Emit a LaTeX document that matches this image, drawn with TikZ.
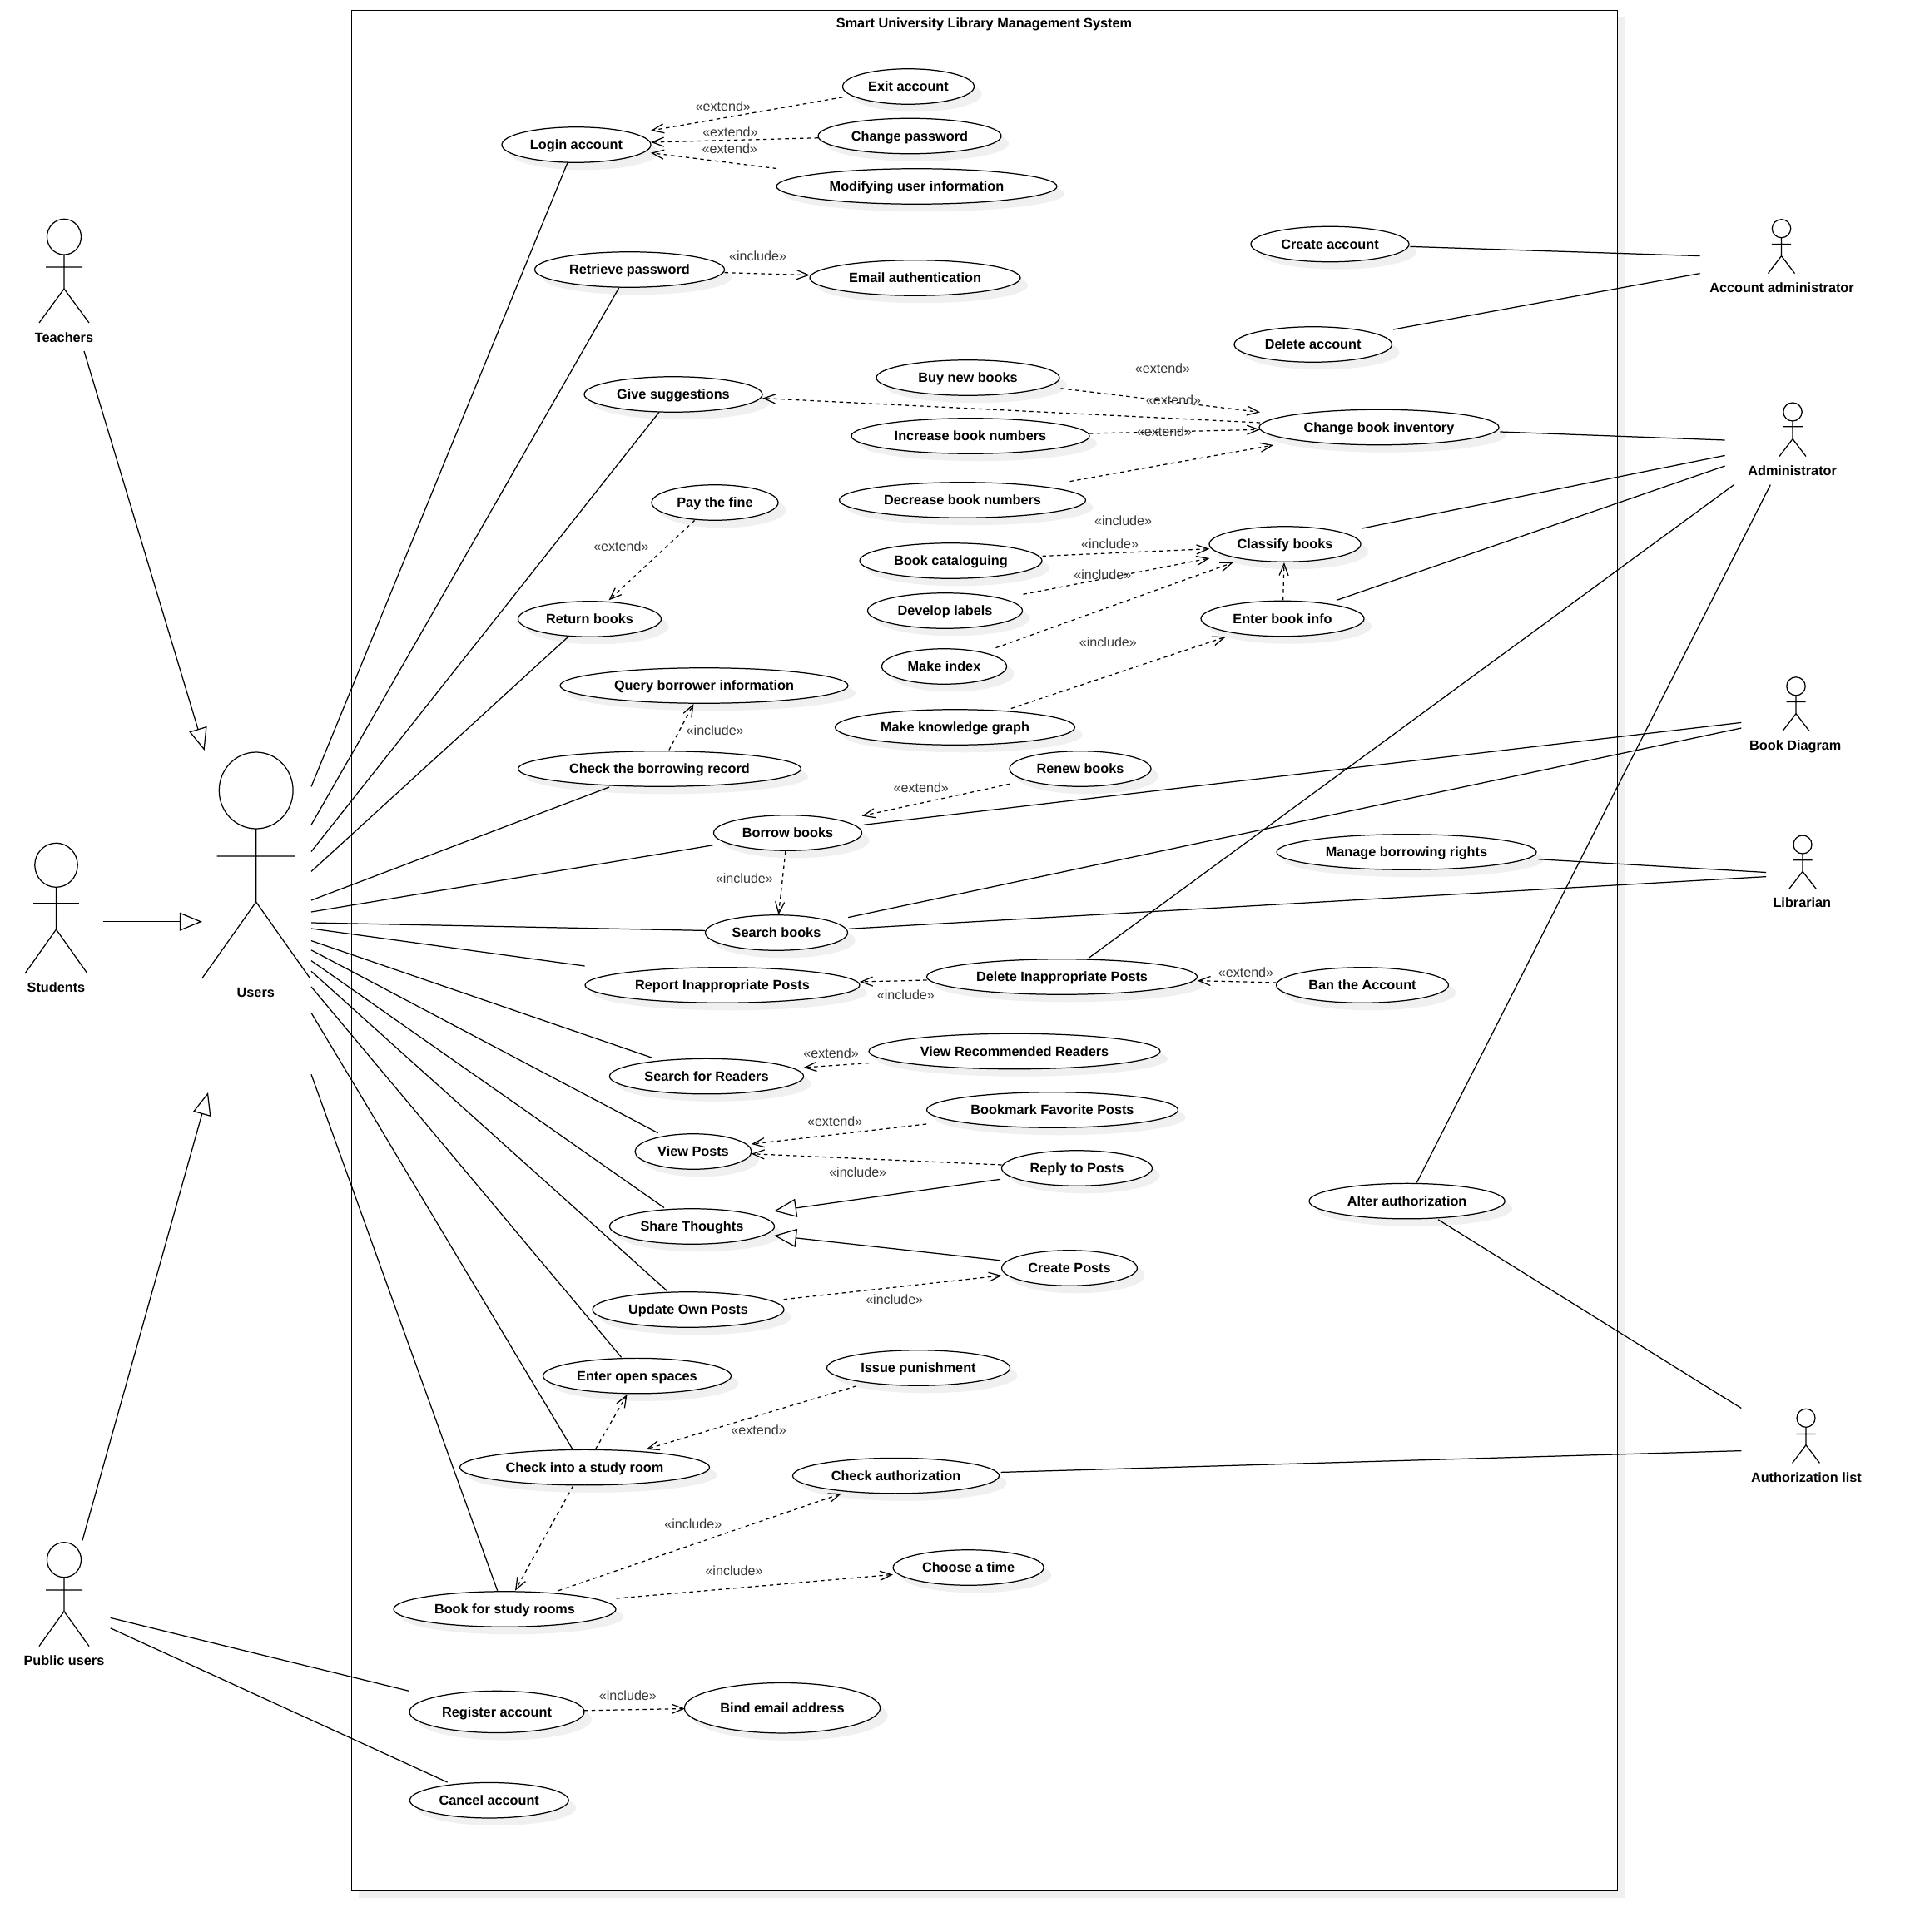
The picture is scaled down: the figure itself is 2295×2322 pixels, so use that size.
\documentclass[tikz,border=0pt]{standalone}
\usepackage{fontspec}
\setmainfont{Liberation Sans}
\usetikzlibrary{arrows.meta,shapes.geometric,shadows}
\definecolor{shgray}{HTML}{F0F0F0}
\definecolor{lbgray}{HTML}{383838}
\tikzset{
  lnk/.style={line width=0.62pt,black},
  assoc/.style={lnk},
  dep/.style={lnk,dash pattern=on 2.2pt off 2.2pt,-{Straight Barb[length=7pt,width=5.5pt]}},
  gen/.style={lnk,-{Triangle[open,fill=white,length=13.5pt,width=11pt]}},
  ucbox/.style={shape=ellipse,draw=black,fill=white,line width=0.62pt,inner sep=0pt,
    font=\fontsize{8.13}{9.6}\selectfont\bfseries,text height=5.8pt,text depth=0pt,
    drop shadow={shadow xshift=4.5pt,shadow yshift=-4.5pt,fill=shgray,opacity=1}},
  actorlabel/.style={inner sep=0pt,font=\fontsize{8.13}{9.6}\selectfont\bfseries,text height=5.8pt,text depth=0pt},
  steretype/.style={inner sep=0pt,text=lbgray,font=\fontsize{8.05}{9.6}\selectfont,text height=5.8pt,text depth=0pt},
}
\newcommand\uc[6][21.25]{\node[ucbox,minimum width=#5pt,minimum height=#1pt] (#2) at (#3,#4) {#6};}
\newcommand\stick[9]{\draw[lnk] (#1,#2) ellipse [x radius=#3,y radius=#4]
  (#1,#2+#4) -- (#1,#7) (#1-#6,#5) -- (#1+#6,#5) (#1-#8,#9) -- (#1,#7) -- (#1+#8,#9);}
\newcommand\lbl[4]{\node[steretype] (#1) at (#2,#3) {#4};}
\newcommand\lk[5]{\draw[#1] ([shift={(#3)}]#2.center) -- ([shift={(#5)}]#4.center);}
\begin{document}
\begin{tikzpicture}[x=0.5pt,y=-0.5pt]
\useasboundingbox (0,0) rectangle (2295,2322);
\fill[white] (0,0) rectangle (2295,2322);
% system frame
\node[draw=black,fill=white,line width=0.62pt,inner sep=0pt,minimum width=760.4pt,minimum height=1130.1pt,
  drop shadow={shadow xshift=4.5pt,shadow yshift=-4.5pt,fill=shgray,opacity=1}] (frame) at (1182.85,1142.3) {};
\node[actorlabel] (title) at (1182.5,27.5) {Smart University Library Management System};
% use cases
\uc{exit}{1091.5}{104}{79}{Exit account}
\uc{chpw}{1093}{163.5}{110}{Change password}
\uc{modify}{1101.5}{224}{168.5}{Modifying user information}
\uc{login}{692.5}{174}{89.5}{Login account}
\uc{retr}{756.5}{324}{114}{Retrieve password}
\uc{email}{1099.5}{334}{126.5}{Email authentication}
\uc{give}{809}{474}{107}{Give suggestions}
\uc{payfine}{859}{604}{76}{Pay the fine}
\uc{ret}{708.5}{744}{86}{Return books}
\uc{buy}{1163}{454}{110}{Buy new books}
\uc{incr}{1166}{524}{143}{Increase book numbers}
\uc{decr}{1156.5}{601}{148}{Decrease book numbers}
\uc{cat}{1142.5}{674}{109.5}{Book cataloguing}
\uc{lab}{1135.5}{734}{93}{Develop labels}
\uc{idx}{1134.5}{801}{75}{Make index}
\uc{create}{1598}{293.5}{95}{Create account}
\uc{del}{1577.7}{414}{94.7}{Delete account}
\uc{inv}{1657}{513.5}{144}{Change book inventory}
\uc{classify}{1544}{654}{91}{Classify books}
\uc{info}{1541}{743.5}{98}{Enter book info}
\uc{query}{846}{824}{173}{Query borrower information}
\uc{kg}{1147.5}{874}{144}{Make knowledge graph}
\uc{rec}{792.5}{924}{170}{Check the borrowing record}
\uc{renew}{1298}{924}{85}{Renew books}
\uc{borrow}{946.5}{1001}{89}{Borrow books}
\uc{search}{933}{1121}{85.5}{Search books}
\uc{manage}{1690}{1024}{156}{Manage borrowing rights}
\uc{report}{868}{1184}{165}{Report Inappropriate Posts}
\uc{delpost}{1276}{1174}{162.5}{Delete Inappropriate Posts}
\uc{ban}{1637}{1184}{103.4}{Ban the Account}
\uc{sreaders}{849}{1293.6}{116.6}{Search for Readers}
\uc{viewrec}{1219}{1263.5}{175}{View Recommended Readers}
\uc{view}{833}{1384}{70}{View Posts}
\uc{bookmark}{1264.5}{1334}{151}{Bookmark Favorite Posts}
\uc{reply}{1294}{1404}{90.5}{Reply to Posts}
\uc{share}{831.5}{1474}{99}{Share Thoughts}
\uc{alter}{1690.6}{1443.6}{117.6}{Alter authorization}
\uc{cposts}{1285}{1524}{81.4}{Create Posts}
\uc{update}{827}{1574}{115}{Update Own Posts}
\uc{open}{765.5}{1653.6}{113}{Enter open spaces}
\uc{issue}{1103.5}{1644}{110}{Issue punishment}
\uc{checkin}{702.5}{1763.6}{150}{Check into a study room}
\uc{auth}{1076.5}{1773.6}{124}{Check authorization}
\uc{choose}{1163.6}{1884}{90.5}{Choose a time}
\uc{bookroom}{606.5}{1934}{133.5}{Book for study rooms}
\uc[25.1]{register}{597}{2057.4}{105}{Register account}
\uc[30.2]{bind}{940}{2052.7}{117.6}{Bind email address}
\uc{cancel}{587.8}{2163.7}{95.4}{Cancel account}
% actors
\stick{77}{284.7}{20.5}{21.4}{321}{22}{347}{30}{388}
\node[actorlabel] (teachers) at (77,405.6) {Teachers};
\stick{307.7}{950}{44.4}{46}{1029}{47}{1084}{65}{1176}
\node[actorlabel] (users) at (307.3,1193) {Users};
\stick{67.5}{1039.8}{25.7}{26.5}{1085.7}{27.3}{1117}{37.5}{1170}
\node[actorlabel] (students) at (67.5,1187) {Students};
\stick{77}{1874.7}{20.5}{21}{1911}{22}{1936.6}{30}{1978.5}
\node[actorlabel] (public) at (77,1995.5) {Public users};
\stick{2140.5}{274.7}{11.2}{11}{293.4}{11.7}{307.6}{16}{328.6}
\node[actorlabel] (accadm) at (2141,345.4) {Account administrator};
\stick{2154}{495}{11.2}{11}{512.8}{12}{527.6}{16}{548.5}
\node[actorlabel] (admin) at (2153.6,565.3) {Administrator};
\stick{2158}{824.8}{11.2}{11}{843.4}{11.5}{857.7}{16}{878.6}
\node[actorlabel] (bookd) at (2157.3,895.4) {Book Diagram};
\stick{2166}{1015}{11}{11}{1033.7}{11.5}{1047.4}{16.3}{1068.4}
\node[actorlabel] (librarian) at (2165.3,1085) {Librarian};
\stick{2170}{1704.3}{11}{11}{1723.4}{11.5}{1736.7}{16.4}{1758.4}
\node[actorlabel] (authlist) at (2170.4,1775.4) {Authorization list};
% generalisations
\lk{gen}{teachers}{24,16.4}{users}{-61.6,-291}
\lk{gen}{students}{56.5,-79.3}{users}{-64.5,-85.3}
\lk{gen}{public}{22,-144.1}{users}{-57.3,120}
\lk{gen}{reply}{-92,13.3}{share}{98.5,-18.4}
\lk{gen}{cposts}{-83,-9.2}{share}{98.5,11}
% users associations
\lk{assoc}{users}{66.7,-247.6}{login}{-10.5,21.4}
\lk{assoc}{users}{66.7,-201.7}{retr}{-12.8,22}
\lk{assoc}{users}{66.7,-169.5}{give}{-17,21.4}
\lk{assoc}{users}{66.7,-145.6}{ret}{-26.5,22}
\lk{assoc}{users}{66.7,-111}{rec}{-60.5,22}
\lk{assoc}{users}{66.7,-97}{borrow}{-89.9,14.8}
\lk{assoc}{users}{66.7,-84}{search}{-86,-2.6}
\lk{assoc}{users}{66.7,-77}{report}{-165.4,-23}
\lk{assoc}{users}{66.7,-62.4}{sreaders}{-65,-22.2}
\lk{assoc}{users}{66.7,-51.2}{view}{-42.4,-22.3}
\lk{assoc}{users}{66.7,-38.4}{share}{-33.5,-22.5}
\lk{assoc}{users}{66.7,-25.7}{update}{-25.4,-22.5}
\lk{assoc}{users}{66.7,-7}{open}{-18.9,-22.3}
\lk{assoc}{users}{66.7,24.3}{checkin}{-14.5,-21.8}
\lk{assoc}{users}{66.7,98.3}{bookroom}{-8.8,-22.3}
\lk{assoc}{public}{55.7,-51.1}{register}{-105.6,-25.1}
\lk{assoc}{public}{55.7,-38.7}{cancel}{-50.2,-21.7}
% right-hand associations
\lk{assoc}{create}{96.3,2.9}{accadm}{-98.4,-37.8}
\lk{assoc}{del}{96.3,-18}{accadm}{-98.4,-16.8}
\lk{assoc}{inv}{145.4,5.5}{admin}{-81,-36.3}
\lk{assoc}{classify}{92.6,-19}{admin}{-81,-17.9}
\lk{assoc}{info}{65,-22.1}{admin}{-81,-5.3}
\lk{assoc}{delpost}{32,-22.5}{admin}{-70.1,17.3}
\lk{assoc}{alter}{11.7,-22.2}{admin}{-26.3,17.3}
\lk{assoc}{borrow}{91.3,-9.7}{bookd}{-65,-27}
\lk{assoc}{search}{86.2,-18.4}{bookd}{-65,-20.4}
\lk{assoc}{search}{86.9,-4.7}{librarian}{-43.1,-31.4}
\lk{assoc}{manage}{158.4,8.7}{librarian}{-43.1,-36.5}
\lk{assoc}{auth}{126,-4.2}{authlist}{-78.1,-31.8}
\lk{assoc}{alter}{37.4,22.2}{authlist}{-78.1,-82.9}
% dependencies
\lk{dep}{exit}{-79,12.8}{login}{89.5,-17}
\lk{dep}{chpw}{-110,2.3}{login}{89.5,-3}
\lk{dep}{modify}{-168.5,-21.5}{login}{89.5,9.7}
\lk{dep}{retr}{114,3.6}{email}{-126.5,-3.4}
\lk{dep}{payfine}{-24.4,21.5}{ret}{23,-22.6}
\lk{dep}{buy}{111.5,12.8}{inv}{-143,-18.1}
\lk{dep}{inv}{-143,-5.5}{give}{107,4.6}
\lk{dep}{incr}{143,-3}{inv}{-143,2.8}
\lk{dep}{decr}{129,-22.4}{inv}{-127,21.5}
\lk{dep}{cat}{110,-5.6}{classify}{-90.7,5.7}
\lk{dep}{lab}{94,-19.7}{classify}{-90.7,17}
\lk{dep}{idx}{62,-22.4}{classify}{-62.2,22}
\lk{dep}{kg}{67.3,-22.5}{info}{-68,21.8}
\lk{dep}{info}{0.7,-22.1}{classify}{-1,22}
\lk{dep}{rec}{11.3,-22.5}{query}{-12.6,22}
\lk{dep}{renew}{-85,18.3}{borrow}{89.1,-20.4}
\lk{dep}{borrow}{-2.6,22}{search}{2.5,-21.5}
\lk{dep}{delpost}{-162.4,4}{report}{165,-4}
\lk{dep}{ban}{-103.4,-3}{delpost}{162.7,4.6}
\lk{dep}{viewrec}{-175,14.1}{sreaders}{116.5,-10.6}
\lk{dep}{bookmark}{-151.4,17}{view}{69.8,-9}
\lk{dep}{reply}{-90.4,-4}{view}{69.8,2.7}
\lk{dep}{update}{114.7,-12.3}{cposts}{-81.4,9}
\lk{dep}{issue}{-74.5,21.8}{checkin}{74,-21.8}
\lk{dep}{checkin}{13,-21.8}{open}{-12,22.4}
\lk{dep}{checkin}{-14,22.4}{bookroom}{12.5,-22.3}
\lk{dep}{bookroom}{64.5,-22.3}{auth}{-65.4,21.4}
\lk{dep}{bookroom}{134.2,-13}{choose}{-90.6,8.4}
\lk{dep}{register}{105,-1.6}{bind}{-117,0.8}
% stereotype labels
\lbl{la}{868.8}{127.5}{«extend»}
\lbl{lb}{877.4}{158.7}{«extend»}
\lbl{lc}{876.8}{178.6}{«extend»}
\lbl{ld}{910.5}{307.7}{«include»}
\lbl{le}{746.4}{656.6}{«extend»}
\lbl{lf}{1397}{442.3}{«extend»}
\lbl{lg}{1410}{480.6}{«extend»}
\lbl{lh}{1399}{518.4}{«extend»}
\lbl{li}{1349.6}{625.5}{«include»}
\lbl{lj}{1333.6}{653.6}{«include»}
\lbl{lk}{1324.8}{690.3}{«include»}
\lbl{ll}{1331.4}{771.4}{«include»}
\lbl{lm}{859.2}{877.6}{«include»}
\lbl{ln}{1106.8}{946.4}{«extend»}
\lbl{lo}{894.4}{1055.6}{«include»}
\lbl{lp}{1088.4}{1195.4}{«include»}
\lbl{lq}{1497}{1168.4}{«extend»}
\lbl{lr}{998.6}{1265.8}{«extend»}
\lbl{ls}{1003.2}{1347.4}{«extend»}
\lbl{lt}{1030.7}{1408.7}{«include»}
\lbl{lu}{1074.7}{1561.7}{«include»}
\lbl{lv}{911.6}{1718.8}{«extend»}
\lbl{lw}{832.8}{1831.6}{«include»}
\lbl{lx}{882}{1887.8}{«include»}
\lbl{ly}{754.4}{2037.4}{«include»}
\end{tikzpicture}
\end{document}
